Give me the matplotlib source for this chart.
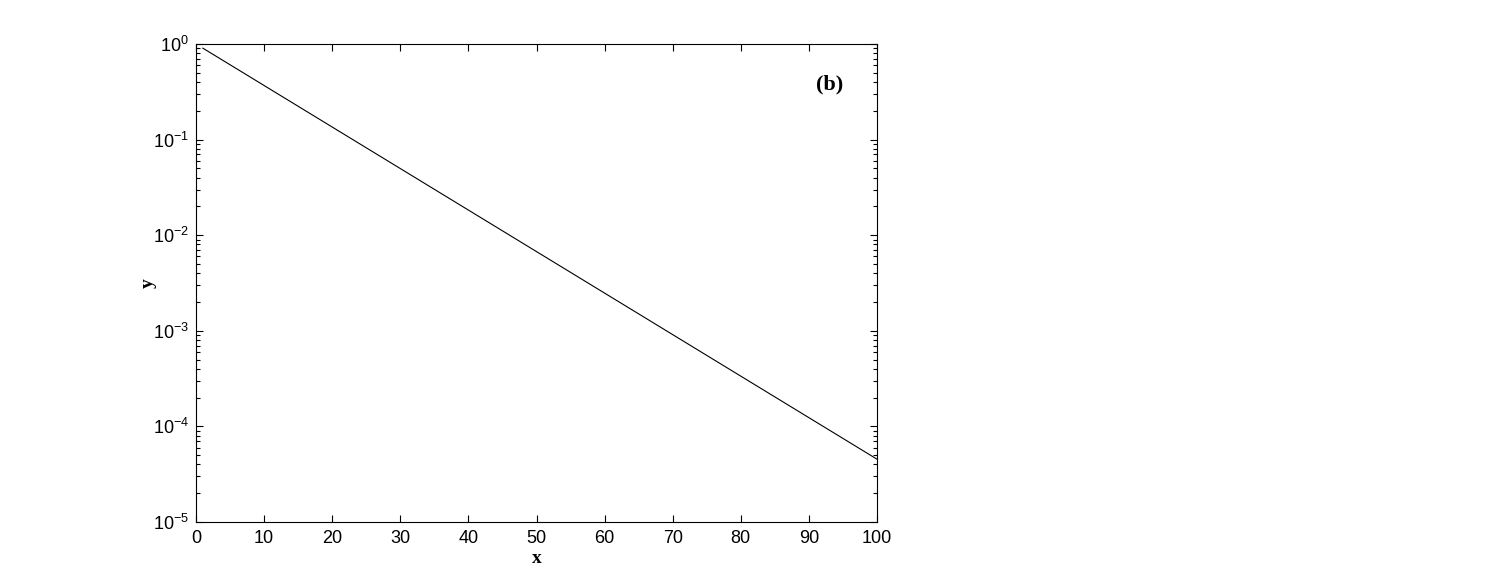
import matplotlib
matplotlib.use("Agg")
import matplotlib.pyplot as plt
from matplotlib.ticker import LogLocator, FixedLocator, NullFormatter

plt.rcParams["font.family"] = ["Liberation Sans", "DejaVu Sans"]
plt.rcParams["mathtext.fontset"] = "custom"
plt.rcParams["mathtext.rm"] = "Liberation Sans"
plt.rcParams["mathtext.it"] = "Liberation Sans:italic"
plt.rcParams["mathtext.bf"] = "Liberation Sans:bold"

# data (straight line on log axis)
x_vals = [1, 100]
y_vals = [0.905, 4.54e-5]
x_ticks = [0, 10, 20, 30, 40, 50, 60, 70, 80, 90, 100]
panel_label = "(b)"

fig = plt.figure(figsize=(15, 5.88), dpi=100)
ax = fig.add_axes([196 / 1500, 1 - 522 / 588, (877 - 196) / 1500, (522 - 44) / 588])

ax.plot(x_vals, y_vals, color="black", linewidth=0.8)
ax.set_yscale("log")
ax.set_xlim(0, 100)
ax.set_ylim(1e-5, 1e0)

ax.xaxis.set_major_locator(FixedLocator(x_ticks))
ax.yaxis.set_major_locator(LogLocator(base=10, numticks=10))
ax.yaxis.set_minor_locator(LogLocator(base=10, subs=range(2, 10), numticks=20))
ax.yaxis.set_minor_formatter(NullFormatter())

ax.tick_params(which="both", direction="in", top=True, right=True,
               labelsize=13, width=0.8)
ax.tick_params(which="major", length=5)
ax.tick_params(which="minor", length=3)
ax.tick_params(axis="x", pad=6)
ax.tick_params(axis="y", pad=5)
for s in ax.spines.values():
    s.set_linewidth(0.8)

ax.set_xlabel("x", fontfamily="Liberation Serif", fontweight="bold", fontsize=14, labelpad=2)
ax.set_ylabel("y", fontfamily="Liberation Serif", fontweight="bold", fontsize=14, labelpad=-3)
ax.text(0.93, 0.915, panel_label, transform=ax.transAxes, ha="center", va="center",
        fontfamily="Liberation Serif", fontweight="bold", fontsize=16)

fig.savefig("out.png", dpi=100)
